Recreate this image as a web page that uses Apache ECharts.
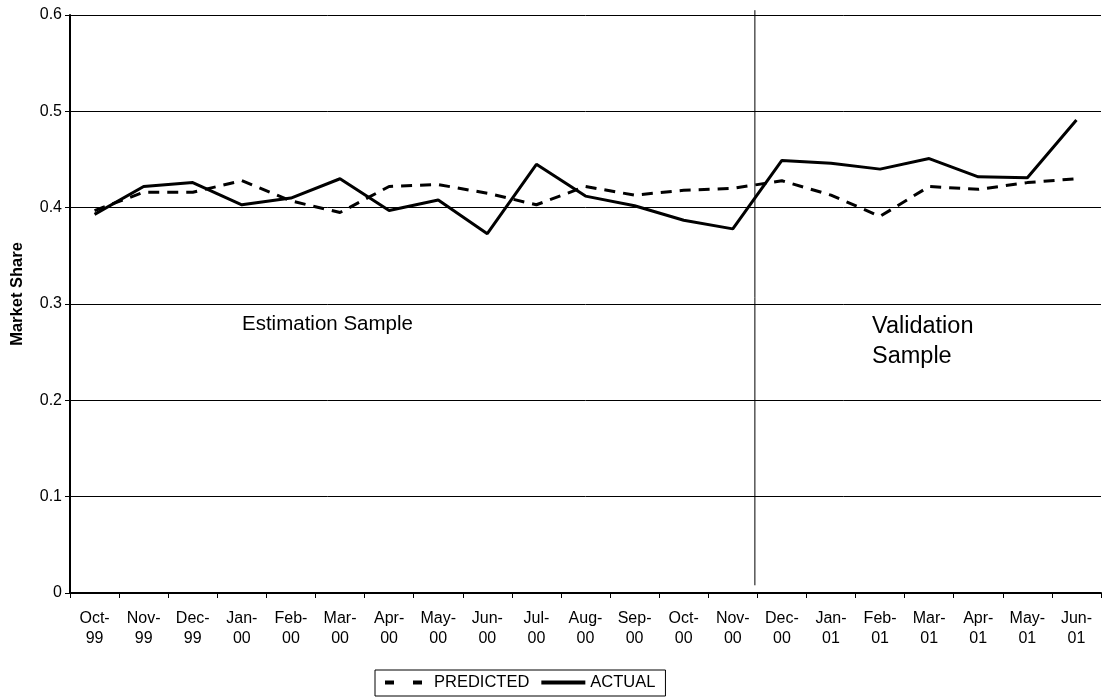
<!DOCTYPE html>
<html>
<head>
<meta charset="utf-8">
<script src="https://cdn.jsdelivr.net/npm/echarts@6/dist/echarts.min.js"></script>
<style>
  html, body { margin: 0; padding: 0; background: #fff; }
  #chart { width: 1102px; height: 698px; }
</style>
</head>
<body>
<div id="chart"></div>
<script>
// Monthly periods, Oct-99 .. Jun-01
const months = ['Oct-\n99', 'Nov-\n99', 'Dec-\n99', 'Jan-\n00', 'Feb-\n00', 'Mar-\n00', 'Apr-\n00',
  'May-\n00', 'Jun-\n00', 'Jul-\n00', 'Aug-\n00', 'Sep-\n00', 'Oct-\n00', 'Nov-\n00',
  'Dec-\n00', 'Jan-\n01', 'Feb-\n01', 'Mar-\n01', 'Apr-\n01', 'May-\n01', 'Jun-\n01'];

const predicted = [0.397, 0.416, 0.416, 0.428, 0.407, 0.395, 0.422, 0.424, 0.415, 0.403, 0.422,
  0.413, 0.418, 0.420, 0.428, 0.413, 0.391, 0.422, 0.419, 0.426, 0.430];

const actual = [0.393, 0.422, 0.426, 0.403, 0.410, 0.430, 0.397, 0.408, 0.373, 0.445, 0.412,
  0.402, 0.387, 0.378, 0.449, 0.446, 0.440, 0.451, 0.432, 0.431, 0.491];

const yTicks = [0, 0.1, 0.2, 0.3, 0.4, 0.5, 0.6];

// Split between estimation and validation samples, in category units
const splitPos = 13.95;
const splitLine = [[splitPos, 0.008], [splitPos, 0.605]];

const FONT = 'Liberation Sans, Arial, sans-serif';

const chart = echarts.init(document.getElementById('chart'), null, { renderer: 'canvas' });

chart.setOption({
  backgroundColor: '#ffffff',
  animation: false,
  textStyle: { fontFamily: FONT, color: '#000' },
  grid: { left: 70, right: 1, top: 15, bottom: 105, containLabel: false },
  xAxis: [
    {
      type: 'category',
      data: months,
      boundaryGap: true,
      axisLine: { lineStyle: { color: '#000', width: 2 } },
      axisTick: { show: true, length: 5, inside: false, lineStyle: { color: '#000', width: 1 } },
      axisLabel: { color: '#000', fontSize: 16, fontFamily: FONT, lineHeight: 20, margin: 16, interval: 0, align: 'center' },
      splitLine: { show: false }
    },
    {
      type: 'value', min: 0, max: months.length, show: false
    }
  ],
  yAxis: {
    type: 'value',
    min: 0,
    max: 0.6,
    interval: 0.1,
    axisLine: { show: true, lineStyle: { color: '#000', width: 2 } },
    axisTick: { show: true, length: 5, lineStyle: { color: '#000', width: 1 } },
    axisLabel: {
      color: '#000', fontSize: 16, fontFamily: FONT, margin: 8,
      formatter: v => {
        const t = yTicks.find(x => Math.abs(x - v) < 1e-9);
        return t === undefined ? '' : (t === 0 ? '0' : String(t));
      }
    },
    splitLine: { show: true, lineStyle: { color: '#000', width: 1 } }
  },
  legend: {
    left: 375,
    top: 670,
    data: [
      { name: 'PREDICTED', lineStyle: { color: '#000', width: 4, type: [9, 19] } },
      { name: 'ACTUAL', lineStyle: { color: '#000', width: 4, type: 'solid' } }
    ],
    itemWidth: 44,
    itemHeight: 12,
    itemGap: 10,
    padding: [4, 10, 5, 8],
    borderColor: '#000',
    borderWidth: 1,
    borderRadius: 0,
    itemStyle: { opacity: 0 },
    textStyle: { color: '#000', fontSize: 16.5, fontFamily: FONT }
  },
  series: [
    {
      name: 'PREDICTED',
      type: 'line',
      data: predicted,
      symbol: 'none',
      lineStyle: { color: '#000', width: 3, type: [11, 8] },
      itemStyle: { color: '#000' },
      z: 3
    },
    {
      name: 'ACTUAL',
      type: 'line',
      data: actual,
      symbol: 'none',
      lineStyle: { color: '#000', width: 3, type: 'solid' },
      itemStyle: { color: '#000' },
      z: 4
    },
    {
      name: 'split',
      type: 'line',
      xAxisIndex: 1,
      data: splitLine,
      symbol: 'none',
      clip: false,
      lineStyle: { color: '#000', width: 1 },
      silent: true,
      z: 2
    }
  ],
  graphic: [
    {
      type: 'text', x: 17, y: 294, rotation: Math.PI / 2,
      style: { text: 'Market Share', font: 'bold 16.5px ' + FONT, fill: '#000', align: 'center', verticalAlign: 'middle' }
    },
    {
      type: 'text', left: 242, top: 314,
      style: { text: 'Estimation Sample', font: '20.5px ' + FONT, fill: '#000' }
    },
    {
      type: 'text', left: 872, top: 312,
      style: { text: 'Validation\nSample', font: '23.5px ' + FONT, fill: '#000', lineHeight: 30 }
    }
  ]
});
</script>
</body>
</html>
